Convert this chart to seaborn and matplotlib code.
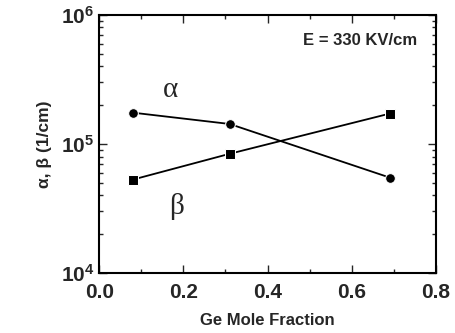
import numpy as np
import pandas as pd
import matplotlib
matplotlib.use("Agg")
import matplotlib.pyplot as plt
import seaborn as sns
from matplotlib.ticker import LogLocator, MultipleLocator, NullFormatter, FormatStrFormatter, FixedLocator

# --- data ---
ge_fraction = [0.08, 0.31, 0.69]
alpha_vals = [1.75e5, 1.43e5, 5.5e4]
beta_vals = [5.3e4, 8.4e4, 1.72e5]

df = pd.DataFrame({
    "x": ge_fraction * 2,
    "y": alpha_vals + beta_vals,
    "coef": ["alpha"] * 3 + ["beta"] * 3,
})

sns.set_style("ticks")
plt.rcParams["font.family"] = ["Liberation Sans", "DejaVu Sans"]
plt.rcParams["mathtext.fontset"] = "custom"
plt.rcParams["mathtext.bf"] = "Liberation Sans:bold"

fig = plt.figure(figsize=(4.55, 3.33), dpi=100)
ax = fig.add_axes([0.218, 0.18, 0.74, 0.775])

sns.lineplot(data=df, x="x", y="y", hue="coef", style="coef",
             markers={"alpha": "o", "beta": "s"}, dashes=False,
             palette={"alpha": "black", "beta": "black"},
             markersize=7, linewidth=1.3, legend=False, ax=ax)

ax.set_yscale("log")
ax.set_xlim(0, 0.8)
ax.set_ylim(1e4, 1e6)

ax.xaxis.set_major_locator(FixedLocator([0.0, 0.2, 0.4, 0.6, 0.8]))
ax.xaxis.set_major_formatter(FormatStrFormatter("%.1f"))
ax.xaxis.set_minor_locator(MultipleLocator(0.1))
ax.yaxis.set_major_locator(FixedLocator([1e4, 1e5, 1e6]))
ax.yaxis.set_minor_locator(LogLocator(base=10, subs=np.arange(2, 10)))
ax.yaxis.set_minor_formatter(NullFormatter())
ax.set_yticklabels([r"$\mathbf{10^4}$", r"$\mathbf{10^5}$", r"$\mathbf{10^6}$"])

ax.tick_params(which="both", direction="in", top=True, right=True, width=1)
ax.tick_params(which="major", length=6, labelsize=15)
ax.tick_params(axis="x", which="major", pad=7)
ax.tick_params(which="minor", length=3)
for lbl in ax.get_xticklabels() + ax.get_yticklabels():
    lbl.set_fontweight("bold")
for s in ax.spines.values():
    s.set_linewidth(1.5)
    s.set_color("black")

ax.set_xlabel("Ge Mole Fraction", fontsize=12, fontweight="bold", labelpad=8)
ax.set_ylabel("α, β (1/cm)", fontsize=12.5, fontweight="bold", labelpad=6)

ax.text(0.945, 0.9, "E = 330 KV/cm", transform=ax.transAxes, ha="right",
        va="center", fontsize=12, fontweight="bold")
ax.text(0.17, 2.6e5, "α", fontsize=21, family="Liberation Serif", ha="center", va="center")
ax.text(0.185, 3.3e4, "β", fontsize=21, family="Liberation Serif", ha="center", va="center")

fig.savefig("out.png", dpi=100)
